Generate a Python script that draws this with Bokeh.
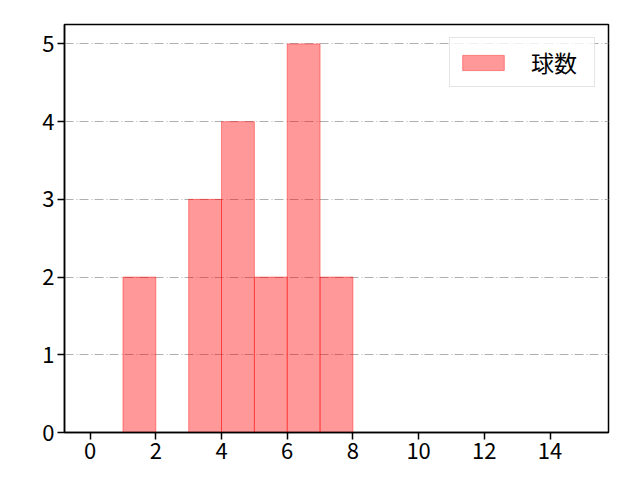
from bokeh.embed import file_html
from bokeh.models import ColumnDataSource, FixedTicker, Range1d
from bokeh.plotting import figure
from bokeh.resources import INLINE

# histogram bins (left/right edges) and counts
bin_left = [1, 3, 4, 5, 6, 7]
bin_right = [2, 4, 5, 6, 7, 8]
counts = [2, 3, 4, 2, 5, 2]
x_ticks = [0, 2, 4, 6, 8, 10, 12, 14]
y_ticks = [0, 1, 2, 3, 4, 5]
series_name = "球数"

FONT = "Noto Sans CJK JP"

src = ColumnDataSource(dict(left=bin_left, right=bin_right,
                            top=counts, bottom=[0] * len(counts)))

p = figure(output_backend="svg", toolbar_location=None,
           x_range=Range1d(-0.78, 15.78), y_range=Range1d(0, 5.25),
           frame_width=544, frame_height=408,
           min_border_left=64, min_border_right=16,
           min_border_top=24, min_border_bottom=32)

p.quad(left="left", right="right", top="top", bottom="bottom", source=src,
       fill_color="red", fill_alpha=0.4, line_color="red", line_alpha=0.4,
       line_width=1, legend_label=series_name)

p.outline_line_color = "black"
p.outline_line_width = 1.5
p.outline_line_alpha = 1

for ax, ticks in ((p.xaxis, x_ticks), (p.yaxis, y_ticks)):
    ax.ticker = FixedTicker(ticks=ticks)
    ax.axis_line_color = "black"
    ax.axis_line_width = 1.5
    ax.major_tick_line_color = "black"
    ax.major_tick_line_width = 1.5
    ax.major_tick_out = 7
    ax.major_tick_in = 0
    ax.minor_tick_line_color = None
    ax.major_label_text_font = FONT
    ax.major_label_text_font_size = "22px"
    ax.major_label_text_color = "black"
    ax.major_label_standoff = 3

p.xgrid.grid_line_color = None
p.ygrid.grid_line_color = "#b0b0b0"
p.ygrid.grid_line_dash = "9 3 1 2"
p.ygrid.grid_line_width = 1

p.legend.location = "top_right"
p.legend.margin = 13
p.legend.padding = 7
p.legend.spacing = 0
p.legend.border_line_color = "#cccccc"
p.legend.border_line_width = 1
p.legend.label_text_font = FONT
p.legend.label_text_font_size = "23px"
p.legend.label_text_color = "black"
p.legend.label_width = 56
p.legend.glyph_width = 52
p.legend.glyph_height = 19
p.legend.label_standoff = 22
p.legend.background_fill_alpha = 0.8

open("out.html", "w").write(file_html(p, INLINE))
